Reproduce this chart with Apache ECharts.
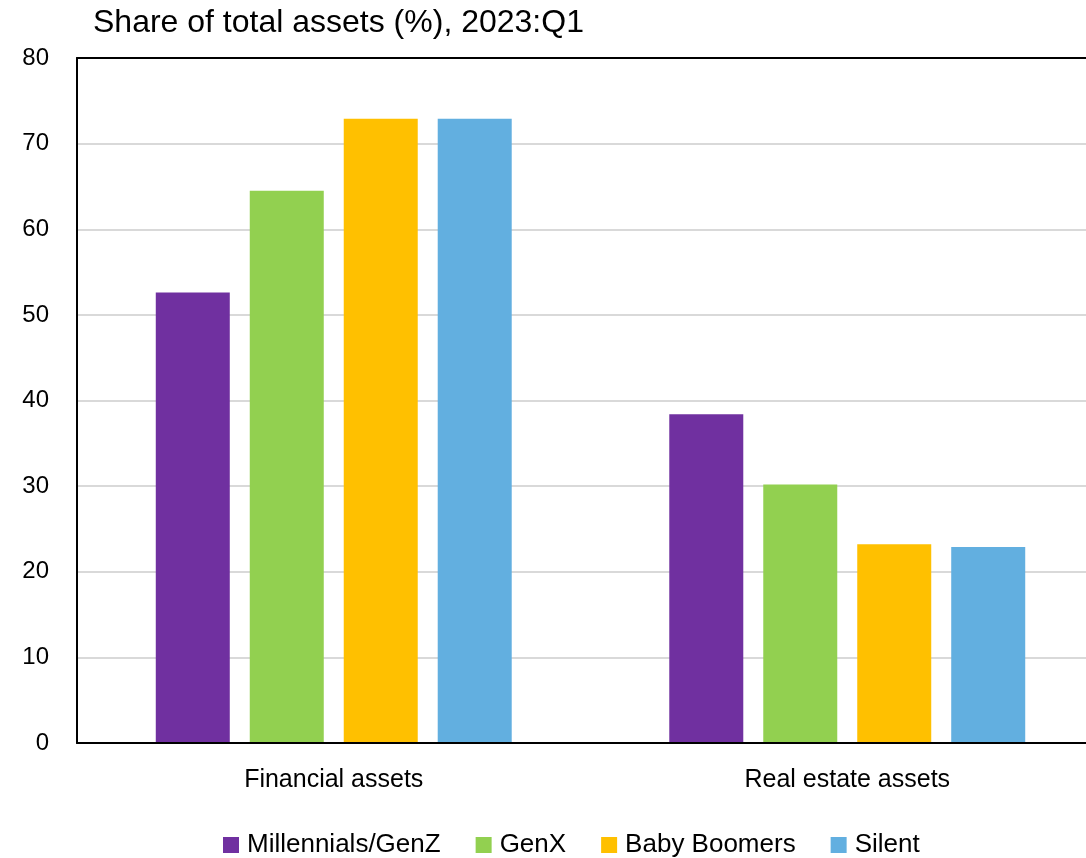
<!DOCTYPE html>
<html>
<head>
<meta charset="utf-8">
<script src="https://cdn.jsdelivr.net/npm/echarts@6/dist/echarts.min.js"></script>
<style>
html,body{margin:0;padding:0;background:#fff;overflow:hidden;width:1086px;height:858px;}
#chart{width:1106px;height:858px;}
</style>
</head>
<body>
<div id="chart"></div>
<script>
const categories = ['Financial assets', 'Real estate assets'];
const seriesNames = ['Millennials/GenZ', 'GenX', 'Baby Boomers', 'Silent'];
const millennials = [52.6, 38.4];
const genx = [64.5, 30.2];
const boomers = [72.9, 23.2];
const silent = [72.9, 22.9];
const yTicks = [0, 10, 20, 30, 40, 50, 60, 70, 80];
const colors = ['#7030A0', '#92D050', '#FFC000', '#62AFE0'];
const seriesValues = [millennials, genx, boomers, silent];

const font = 'Liberation Sans, Arial, sans-serif';
const chart = echarts.init(document.getElementById('chart'));
chart.setOption({
  animation: false,
  backgroundColor: '#fff',
  title: {
    text: 'Share of total assets (%), 2023:Q1',
    left: 88, top: 2,
    textStyle: {fontFamily: font, fontSize: 32, fontWeight: 'normal', color: '#000'}
  },
  legend: {
    data: seriesNames,
    top: 827, left: 218,
    itemWidth: 16, itemHeight: 16, itemGap: 35,
    icon: 'rect',
    textStyle: {fontFamily: font, fontSize: 26, color: '#000', padding: [0, 0, 0, 3]}
  },
  grid: {
    left: 77, right: 2, top: 58, bottom: 115,
    show: false, containLabel: false
  },
  xAxis: [{
    type: 'category',
    data: categories,
    axisLine: {show: true, lineStyle: {color: '#000', width: 2}},
    axisTick: {show: false},
    axisLabel: {fontFamily: font, fontSize: 25, color: '#000', margin: 25},
    z: 5
  }, {
    type: 'category',
    position: 'top',
    data: categories,
    axisLine: {show: true, lineStyle: {color: '#000', width: 2}},
    axisTick: {show: false},
    axisLabel: {show: false},
    z: 5
  }],
  yAxis: {
    type: 'value',
    min: yTicks[0], max: yTicks[yTicks.length - 1], interval: 10,
    axisLine: {show: true, lineStyle: {color: '#000', width: 2}},
    axisTick: {show: false},
    splitLine: {lineStyle: {color: '#d9d9d9', width: 2}},
    axisLabel: {fontFamily: font, fontSize: 24, color: '#000', margin: 28}
  },
  series: seriesNames.map((name, i) => ({
    name: name,
    type: 'bar',
    data: seriesValues[i],
    barWidth: 74,
    barGap: '27%',
    itemStyle: {color: colors[i]}
  }))
});
</script>
</body>
</html>
